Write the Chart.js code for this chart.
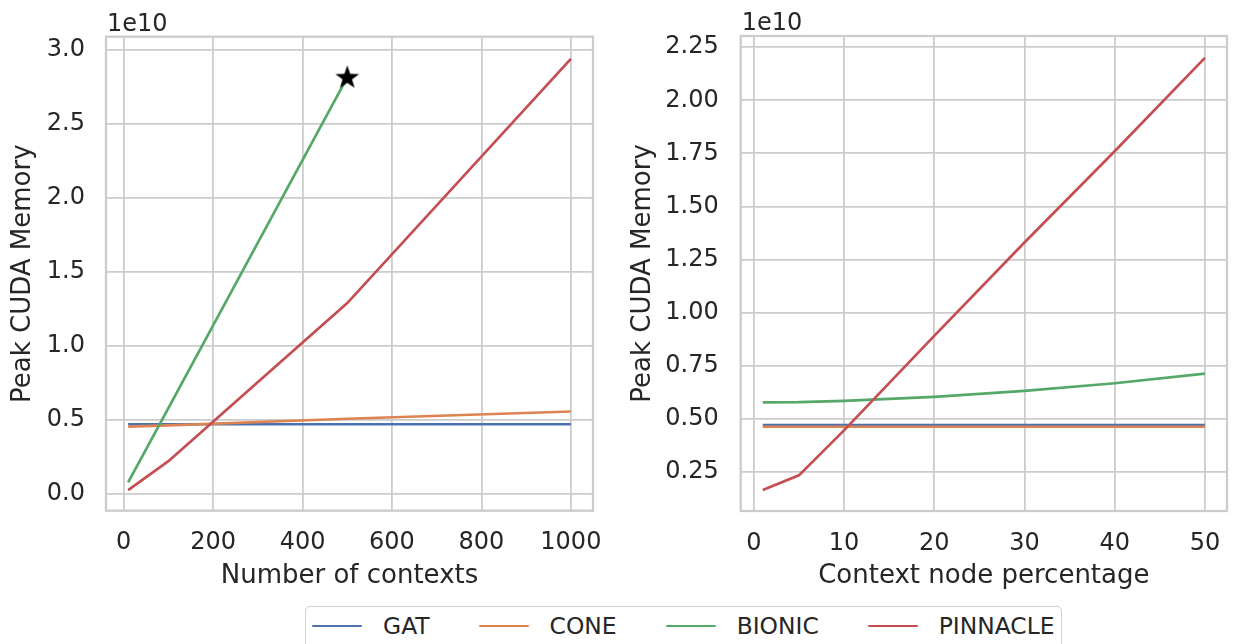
<!DOCTYPE html>
<html>
<head>
<meta charset="utf-8">
<script src="https://cdn.jsdelivr.net/npm/chart.js@4"></script>
<style>
  body { margin: 0; background: #fff; width: 1233px; height: 644px; overflow: hidden; position: relative; font-family: "DejaVu Sans", sans-serif; }
  #left { position: absolute; left: 0; top: 0; }
  #right { position: absolute; left: 620px; top: 0; }
  #legend {
    position: absolute; left: 305px; top: 606px; height: 44px; width: 757px;
    box-sizing: border-box; border: 1.6px solid #d0d0d0; border-radius: 5px;
    display: flex; align-items: center; padding-left: 6px; padding-bottom: 4px;
    font-size: 23.4px; color: #262626;
  }
  .item { display: flex; align-items: center; margin-right: 49px; }
  .swatch { width: 50px; height: 2.7px; border-radius: 1px; margin-right: 21px; }
</style>
</head>
<body>
<canvas id="left" width="600" height="600"></canvas>
<canvas id="right" width="613" height="600"></canvas>
<div id="legend"></div>
<script>
// memory values are in units of 1e10 bytes (the axis offset label)
const methods = ['GAT', 'CONE', 'BIONIC', 'PINNACLE'];
const colors = ['#4C72B0', '#DD8452', '#55A868', '#C44E52'];

// left panel: number of contexts
const numContexts = [10, 100, 500, 1000];
const gatByContexts = [0.468, 0.468, 0.468, 0.468];
const coneByContexts = [0.452, 0.460, 0.505, 0.554];
const bionicByContexts = [0.074, 0.577, 2.815]; // runs out of memory past 500
const pinnacleByContexts = [0.022, 0.218, 1.288, 2.94];

// right panel: context node percentage
const nodePct = [1, 5, 10, 20, 30, 40, 50];
const gatByPct = [0.470, 0.470, 0.470, 0.470, 0.470, 0.470, 0.470];
const coneByPct = [0.462, 0.462, 0.462, 0.462, 0.462, 0.462, 0.462];
const bionicByPct = [0.577, 0.578, 0.584, 0.603, 0.631, 0.667, 0.712];
const pinnacleByPct = [0.164, 0.233, 0.445, 0.89, 1.33, 1.76, 2.20];

const leftTicksX = [0, 200, 400, 600, 800, 1000];
const leftTicksY = [0, 0.5, 1.0, 1.5, 2.0, 2.5, 3.0];
const rightTicksX = [0, 10, 20, 30, 40, 50];
const rightTicksY = [0.25, 0.5, 0.75, 1.0, 1.25, 1.5, 1.75, 2.0, 2.25];

Chart.defaults.font.family = '"DejaVu Sans", sans-serif';
Chart.defaults.color = '#262626';
Chart.defaults.animation = false;

const textColor = '#262626';
const gridColor = '#cccccc';

function pts(xs, ys) {
  return ys.map((y, i) => ({ x: xs[i], y: y }));
}

// filled five-point star used for the marker at the end of the BIONIC run
function starImage() {
  const c = document.createElement('canvas');
  c.width = 28; c.height = 28;
  const g = c.getContext('2d');
  const cx = 14, cy = 14.5, ro = 12.5, ri = 5;
  g.beginPath();
  for (let i = 0; i < 10; i++) {
    const r = i % 2 ? ri : ro;
    const a = -Math.PI / 2 + i * Math.PI / 5;
    g.lineTo(cx + r * Math.cos(a), cy + r * Math.sin(a));
  }
  g.closePath();
  g.fillStyle = '#000';
  g.fill();
  return c;
}

// frame around plot area + "1e10" offset text
const framePlugin = {
  id: 'frame',
  beforeDatasetsDraw(chart) {
    const a = chart.chartArea, c = chart.ctx;
    c.save();
    c.strokeStyle = gridColor;
    c.lineWidth = 2.3;
    c.strokeRect(a.left, a.top, a.right - a.left, a.bottom - a.top);
    c.restore();
  },
  afterDraw(chart) {
    const a = chart.chartArea, c = chart.ctx;
    c.save();
    c.fillStyle = textColor;
    c.font = '24px "DejaVu Sans"';
    c.textAlign = 'left';
    c.textBaseline = 'alphabetic';
    c.fillText('1e10', a.left + 1, a.top - 6);
    c.restore();
  }
};

function makeChart(id, cfg) {
  const datasets = cfg.series.map((s, i) => ({
    label: methods[i],
    data: pts(s.x, s.y),
    borderColor: colors[i],
    backgroundColor: colors[i],
    borderWidth: 2.7,
    pointRadius: 0,
    tension: 0,
    order: 4 - i
  }));
  if (cfg.star) {
    datasets.push({
      label: 'oom',
      data: [cfg.star],
      showLine: false,
      pointStyle: starImage(),
      pointRadius: 12,
      order: 0
    });
  }
  return new Chart(document.getElementById(id), {
    type: 'line',
    data: { datasets },
    options: {
      responsive: false,
      layout: { autoPadding: false, padding: { top: cfg.pad.top, right: cfg.pad.right, left: 0, bottom: 0 } },
      plugins: { legend: { display: false }, tooltip: { enabled: false } },
      scales: {
        x: {
          type: 'linear',
          min: cfg.xMin, max: cfg.xMax,
          bounds: 'data',
          afterBuildTicks: s => { s.ticks = cfg.xTicks.map(v => ({ value: v })); },
          afterFit: s => { s.height = cfg.xAxisH; s.paddingLeft = 0; s.paddingRight = 0; },
          border: { display: false },
          grid: { color: gridColor, lineWidth: 1.8, drawTicks: false },
          ticks: {
            padding: 18,
            font: { size: 24 }, color: textColor,
            callback: v => String(v)
          },
          title: { display: true, text: cfg.xTitle, font: { size: 26 }, color: textColor, padding: { top: 0, bottom: 8.4 } }
        },
        y: {
          type: 'linear',
          min: cfg.yMin, max: cfg.yMax,
          bounds: 'data',
          afterBuildTicks: s => { s.ticks = cfg.yTicks.map(v => ({ value: v })); },
          afterFit: s => { s.width = cfg.yAxisW; s.paddingTop = 0; s.paddingBottom = 0; },
          border: { display: false },
          grid: { color: gridColor, lineWidth: 1.8, drawTicks: false },
          ticks: {
            padding: cfg.yPad,
            font: { size: 24 }, color: textColor,
            callback: v => v.toFixed(cfg.yDigits)
          },
          title: { display: true, text: 'Peak CUDA Memory', font: { size: 26 }, color: textColor, padding: { top: 8, bottom: 0 } }
        }
      }
    },
    plugins: [framePlugin]
  });
}

makeChart('left', {
  series: [
    { x: numContexts, y: gatByContexts },
    { x: numContexts, y: coneByContexts },
    { x: numContexts, y: bionicByContexts },
    { x: numContexts, y: pinnacleByContexts }
  ],
  star: { x: numContexts[bionicByContexts.length - 1], y: bionicByContexts[bionicByContexts.length - 1] },
  pad: { top: 36.7, right: 7 },
  xMin: -39.5, xMax: 1049.5, xTicks: leftTicksX,
  yMin: -0.117, yMax: 3.09, yDigits: 1, yTicks: leftTicksY,
  xAxisH: 89.3, yAxisW: 106, yPad: 21,
  xTitle: 'Number of contexts'
});

makeChart('right', {
  series: [
    { x: nodePct, y: gatByPct },
    { x: nodePct, y: coneByPct },
    { x: nodePct, y: bionicByPct },
    { x: nodePct, y: pinnacleByPct }
  ],
  pad: { top: 36, right: 6 },
  xMin: -1.45, xMax: 52.45, xTicks: rightTicksX,
  yMin: 0.065, yMax: 2.303, yDigits: 2, yTicks: rightTicksY,
  xAxisH: 89, yAxisW: 120.7, yPad: 22,
  xTitle: 'Context node percentage'
});

// shared legend below both panels
const legend = document.getElementById('legend');
methods.forEach((m, i) => {
  const item = document.createElement('div');
  item.className = 'item';
  const sw = document.createElement('span');
  sw.className = 'swatch';
  sw.style.background = colors[i];
  const label = document.createElement('span');
  label.textContent = m;
  item.appendChild(sw);
  item.appendChild(label);
  legend.appendChild(item);
});
</script>
</body>
</html>
